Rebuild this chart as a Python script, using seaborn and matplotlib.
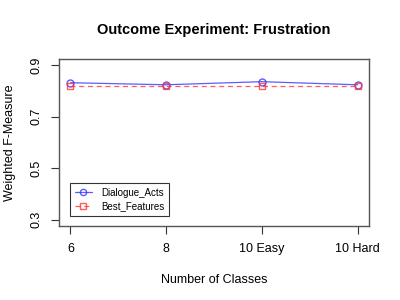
import pandas as pd
import matplotlib
matplotlib.use("Agg")
import matplotlib.pyplot as plt
import seaborn as sns

# values
classes = ["6", "8", "10 Easy", "10 Hard"]
dialogue_acts = [0.832, 0.824, 0.836, 0.824]
best_features = [0.821, 0.821, 0.821, 0.821]

df = pd.DataFrame({
    "pos": list(range(1, len(classes) + 1)) * 2,
    "value": dialogue_acts + best_features,
    "series": ["Dialogue_Acts"] * len(classes) + ["Best_Features"] * len(classes),
})

sns.set_style("white")
plt.rcParams['font.family'] = ['Liberation Sans', 'DejaVu Sans']
plt.rcParams['text.color'] = 'black'
plt.rcParams['axes.labelcolor'] = 'black'
plt.rcParams['xtick.color'] = 'black'
plt.rcParams['ytick.color'] = 'black'

fig = plt.figure(figsize=(4, 3), dpi=100)
ax = fig.add_axes([0.1475, 0.2467, 0.775, 0.5566])

sns.lineplot(data=df, x="pos", y="value", hue="series", style="series",
             palette={"Dialogue_Acts": "#3333ff", "Best_Features": "#ff3333"},
             markers={"Dialogue_Acts": "o", "Best_Features": "s"},
             dashes={"Dialogue_Acts": "", "Best_Features": (4, 3)},
             markerfacecolor="none", markeredgewidth=1.0, markersize=5,
             linewidth=0.9, alpha=0.8, ax=ax)

for line in ax.lines:
    line.set_markerfacecolor("none")
    line.set_markeredgecolor(line.get_color())

ax.set_xlim(0.88, 4.12)
ax.set_ylim(0.276, 0.924)
ax.set_xticks(range(1, len(classes) + 1))
ax.set_xticklabels(classes, fontsize=9)
ax.set_yticks([0.3, 0.5, 0.7, 0.9])
ax.set_yticklabels(["0.3", "0.5", "0.7", "0.9"], fontsize=9, rotation=90, va="center")
ax.tick_params(axis="both", direction="out", length=6, width=0.8, color="#333333",
               bottom=True, left=True, pad=6)

for s in ax.spines.values():
    s.set_color("#555555")
    s.set_linewidth(1.0)

ax.set_xlabel("Number of Classes", fontsize=9, labelpad=14)
ax.set_ylabel("Weighted F-Measure", fontsize=9, labelpad=10)
ax.set_title("Outcome Experiment: Frustration", fontsize=10.5, fontweight="bold", pad=18)

handles, labels = ax.get_legend_handles_labels()
leg = ax.legend(handles, labels, loc="lower left", bbox_to_anchor=(0.035, 0.06),
                borderaxespad=0, fontsize=7, frameon=True, fancybox=False,
                edgecolor="black", handlelength=1.8, handletextpad=0.9,
                borderpad=0.5, labelspacing=0.35)
leg.get_frame().set_linewidth(0.8)
for h in leg.legend_handles:
    h.set_markersize(4.5)

fig.savefig("out.png", dpi=100)
